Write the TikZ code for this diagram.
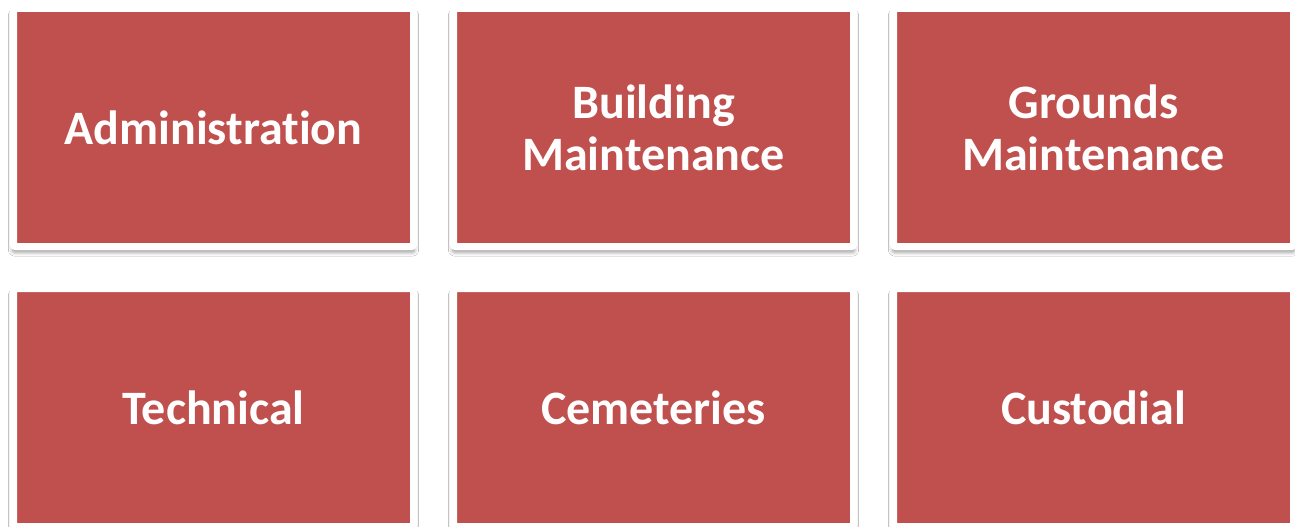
\documentclass[tikz,border=0pt]{standalone}
\usepackage{fontspec}
\setsansfont{Carlito}[Ligatures=CommonOff]
\usepackage{tikz}
\usetikzlibrary{
  positioning,
  shadows.blur
}
\tikzset{
  every node/.style={inner sep=2pt}
}
\definecolor{unitRed}{RGB}{192, 80, 77}
\definecolor{frameWhite}{RGB}{255, 255, 255}

\begin{document}
\begin{tikzpicture}[
    x=1pt, y=1pt,
    font=\sffamily\bfseries,
    node distance=42pt and 40pt,
    unit/.style={rectangle, fill=unitRed, draw=frameWhite, line width=7pt, outer sep=0pt, rounded corners=2pt,
                 minimum width=400pt, minimum height=238pt, align=center, text=white,
                 font=\fontsize{48}{52}\selectfont\sffamily\bfseries,
                 blur shadow={shadow xshift=0pt, shadow yshift=-5pt, shadow scale=1.005, shadow blur radius=4pt, shadow opacity=40}}
]

    \useasboundingbox[fill=white] (0,0) rectangle (1295,-527);

    % top row
    \node[unit] (admin) at (213.5,-127.5) {Administration};
    \node[unit, right=of admin] (building) {Building\\Maintenance};
    \node[unit, right=of building] (grounds) {Grounds\\Maintenance};

    % bottom row
    \node[unit, below=of admin] (technical) {Technical};
    \node[unit, below=of building] (cemeteries) {Cemeteries};
    \node[unit, below=of grounds] (custodial) {Custodial};

\end{tikzpicture}
\end{document}
